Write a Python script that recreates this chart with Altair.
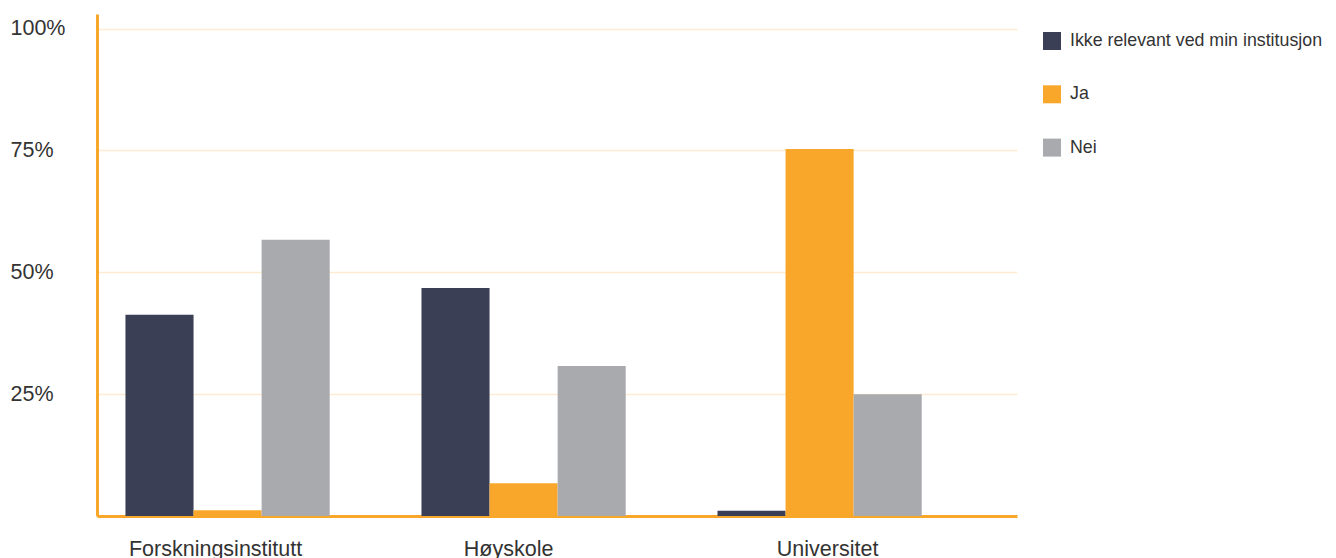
import altair as alt
import pandas as pd

categories = ["Forskningsinstitutt", "Høyskole", "Universitet"]
series = ["Ikke relevant ved min institusjon", "Ja", "Nei"]
ikke_relevant = [41.3, 46.8, 1.1]
ja = [1.2, 6.7, 75.3]
nei = [56.7, 30.8, 25.0]
y_ticks = [25, 50, 75, 100]
colors = ["#3a3f55", "#f9a72b", "#a9aaad"]

rows = []
for i, c in enumerate(categories):
    for s, vals in zip(series, [ikke_relevant, ja, nei]):
        rows.append({"kategori": c, "svar": s, "andel": vals[i]})
df = pd.DataFrame(rows)

FONT = "Liberation Sans"
TXT = "#333333"
ORANGE = "#f9a72b"

label_offset = {
    "condition": [
        {"test": "datum.value === 'Forskningsinstitutt'", "value": -12},
        {"test": "datum.value === 'Høyskole'", "value": -15},
    ],
    "value": 8,
}

chart = alt.Chart(df).mark_bar().encode(
    x=alt.X(
        "kategori:N",
        sort=categories,
        scale=alt.Scale(paddingInner=0.31, paddingOuter=0.209, align=0.23),
        axis=alt.Axis(
            title=None, labelAngle=0, ticks=False, labelPadding=22,
            labelFontSize=21.5, labelColor=TXT, labelFont=FONT,
            domainColor=ORANGE, domainWidth=3, labelBaseline="top",
            labelOffset=label_offset,
        ),
    ),
    xOffset=alt.XOffset("svar:N", sort=series, scale=alt.Scale(paddingInner=0, paddingOuter=0)),
    y=alt.Y(
        "andel:Q",
        scale=alt.Scale(domain=[0, 103], nice=False),
        axis=alt.Axis(
            title=None, values=y_ticks, labelExpr="datum.value + '%'",
            ticks=False, tickSize=0, labelAlign="left", labelPadding=87,
            labelFontSize=21.5, labelColor=TXT, labelFont=FONT,
            domainColor=ORANGE, domainWidth=3,
            grid=True, gridColor="#fdecd2", gridWidth=1.5,
        ),
    ),
    color=alt.Color(
        "svar:N",
        sort=series,
        scale=alt.Scale(domain=series, range=colors),
        legend=alt.Legend(
            title=None, orient="none", legendX=946, legendY=18,
            symbolType="square", symbolSize=324, symbolStrokeWidth=0,
            labelFontSize=17.8, labelColor=TXT, labelFont=FONT,
            labelOffset=9, rowPadding=35.3, labelLimit=400,
        ),
    ),
).properties(
    width=920, height=502,
    padding={"left": 89, "top": 6, "right": 311, "bottom": 50},
    autosize=alt.AutoSizeParams(type="none"),
).configure_view(stroke=None)

chart.save("out.html", embed_options={"renderer": "svg", "actions": False})
